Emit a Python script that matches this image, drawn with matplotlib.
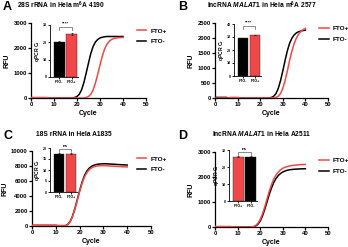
import matplotlib
matplotlib.use("Agg")
import matplotlib.pyplot as plt

plt.rcParams["font.family"] = ["Liberation Sans", "DejaVu Sans"]
plt.rcParams["font.weight"] = "bold"
plt.rcParams["mathtext.fontset"] = "custom"
plt.rcParams["mathtext.rm"] = "Liberation Sans:bold"
plt.rcParams["mathtext.bf"] = "Liberation Sans:bold"
plt.rcParams["mathtext.it"] = "Liberation Sans:bold:italic"

RED = "#f04848"
BLACK = "#000000"

# --- amplification curves (RFU per cycle 0..40) ---
cycles = list(range(41))

a_minus = [0]*19 + [20, 60, 150, 330, 620, 1000, 1400, 1780, 2060, 2240, 2340, 2400,
                    2430, 2450, 2460, 2460, 2460, 2460, 2460, 2460, 2460, 2460]
a_plus = [20]*8 + [0]*16 + [20, 60, 150, 320, 600, 950, 1320, 1680, 1960, 2150, 2270,
                             2340, 2380, 2400, 2410, 2420, 2420]

b_minus = [20]*6 + [0]*19 + [20, 60, 150, 320, 580, 900, 1250, 1570, 1820, 1990, 2100,
                             2170, 2210, 2230, 2250, 2260]
b_plus = [0]*7 + [20]*4 + [0]*16 + [20, 60, 150, 320, 580, 900, 1250, 1560, 1810, 2000,
                                    2130, 2220, 2280, 2320]

c_minus = [80]*11 + [50]*3 + [50, 200, 600, 1300, 2300, 3500, 4700, 5800, 6700, 7300, 7700,
                              7950, 8100, 8200, 8250, 8280, 8300, 8300, 8280, 8260, 8240,
                              8220, 8200, 8180, 8160, 8150, 8130]
c_plus = [100]*11 + [40]*3 + [40, 180, 560, 1250, 2250, 3400, 4600, 5650, 6500, 7100, 7500,
                              7750, 7900, 7980, 8020, 8050, 8050, 8040, 8020, 8000, 7980,
                              7960, 7940, 7920, 7900, 7890, 7880]

d_plus = [20]*8 + [0]*9 + [20, 60, 150, 300, 520, 800, 1120, 1430, 1700, 1920, 2080, 2200,
                          2290, 2350, 2390, 2420, 2440, 2460, 2470, 2480, 2490, 2495, 2500, 2500]
d_minus = [0]*18 + [40, 110, 240, 440, 700, 1000, 1300, 1560, 1780, 1940, 2060, 2140, 2200,
                    2240, 2270, 2290, 2300, 2310, 2315, 2320, 2325, 2328, 2330]

# --- inset Ct bars ---
a_bar_labels = ["FTO-", "FTO+"]
a_bar_vals = [20.3, 24.8]
b_bar_labels = ["FTO-", "FTO+"]
b_bar_vals = [29.0, 31.5]
c_bar_labels = ["FTO-", "FTO+"]
c_bar_vals = [17.5, 17.4]
d_bar_labels = ["FTO+", "FTO-"]
d_bar_vals = [26.0, 26.0]

W, H = 348, 247
fig = plt.figure(figsize=(W / 100, H / 100), dpi=100)


def px_axes(x0, y0, x1, y1):
    return fig.add_axes([x0 / W, 1 - y1 / H, (x1 - x0) / W, (y1 - y0) / H])


def style(ax, lw=0.9, ls=4.2):
    ax.spines["top"].set_visible(False)
    ax.spines["right"].set_visible(False)
    for s in ("left", "bottom"):
        ax.spines[s].set_linewidth(lw)
    ax.tick_params(width=lw, length=2, labelsize=ls, pad=1)
    for lab in ax.get_xticklabels() + ax.get_yticklabels():
        lab.set_fontweight("bold")


def main_panel(box, y_plus, y_minus, yticks, leg_xy):
    ax = px_axes(*box)
    ax.plot(cycles, y_minus, color=BLACK, lw=1.1, label="FTO-", zorder=2)
    ax.plot(cycles, y_plus, color=RED, lw=1.1, label="FTO+", zorder=3)
    ax.set_xlim(0, 50)
    ax.set_ylim(0, yticks[-1])
    ax.set_xticks(range(0, 51, 10))
    ax.set_yticks(yticks)
    style(ax)
    ax.set_xlabel("Cycle", fontsize=5, fontweight="bold", labelpad=2)
    ax.set_ylabel("RFU", fontsize=5, fontweight="bold", labelpad=2)
    h, l = ax.get_legend_handles_labels()
    ax.legend([h[1], h[0]], [l[1], l[0]], loc="upper left", bbox_to_anchor=leg_xy,
              frameon=False, fontsize=4.6, handlelength=1.5, handletextpad=0.6,
              labelspacing=0.8, borderaxespad=0, borderpad=0)
    return ax


def inset(box, labels, vals, ylim, yticks, sig):
    ax = px_axes(*box)
    cols = [BLACK if lab == "FTO-" else RED for lab in labels]
    ax.bar([0, 1], vals, width=0.85, color=cols, edgecolor="#222222", linewidth=0.3,
           yerr=[0.3, 0.3], error_kw=dict(lw=0.4, capsize=1, capthick=0.4))
    ax.set_xlim(-0.73, 1.5)
    ax.set_ylim(*ylim)
    ax.set_yticks(yticks)
    ax.set_xticks([0, 1])
    ax.set_xticklabels(labels)
    style(ax, lw=0.6, ls=2.6)
    ax.tick_params(length=1.2, pad=0.8)
    ax.set_ylabel("qPCR C$_t$", fontsize=3.6, fontweight="bold", labelpad=1)
    top = ylim[1]
    yb = top * 0.91
    ax.plot([0, 0, 1, 1], [yb, top * 0.97, top * 0.97, yb], color="#333333", lw=0.4,
            clip_on=False)
    ax.text(0.5, top * 0.99, sig, ha="center", va="bottom", fontsize=3.2,
            fontweight="bold", clip_on=False)
    return ax


main_panel((31, 23, 146, 98), a_plus, a_minus, [0, 1000, 2000, 3000], (0.92, 0.93))
inset((50, 25, 78, 77), a_bar_labels, a_bar_vals, (0, 30), [0, 10, 20, 30], "****")

main_panel((215, 23, 328, 98), b_plus, b_minus, [0, 500, 1000, 1500, 2000, 2500], (0.92, 0.96))
inset((234, 24, 261, 76), b_bar_labels, b_bar_vals, (0, 40), [0, 10, 20, 30, 40], "****")

main_panel((32, 151, 151, 226), c_plus, c_minus, [0, 2000, 4000, 6000, 8000, 10000], (0.88, 0.93))
inset((50, 148, 77, 192), c_bar_labels, c_bar_vals, (0, 20), [0, 5, 10, 15, 20], "ns")

main_panel((215, 152, 328, 227), d_plus, d_minus, [0, 1000, 2000, 3000], (0.92, 0.92))
inset((229, 150, 257, 201), d_bar_labels, d_bar_vals, (0, 30), [0, 10, 20, 30], "ns")

# titles and panel letters
titles = [
    (61, 5, "28S rRNA in Hela m$^6$A 4190"),
    (262, 5, "lncRNA $\\mathit{MALAT1}$ in Hela m$^6$A 2577"),
    (74, 134, "18S rRNA in Hela A1835"),
    (262, 134, "lncRNA $\\mathit{MALAT1}$ in Hela A2511"),
]
for x, y, t in titles:
    fig.text(x / W, 1 - y / H, t, ha="center", va="center", fontsize=4.8, fontweight="bold")

for x, y, t in [(3, 7, "A"), (178, 7, "B"), (3, 136, "C"), (178, 136, "D")]:
    fig.text(x / W, 1 - y / H, t, ha="left", va="center", fontsize=9, fontweight="bold")

fig.savefig("out.png", dpi=100)
